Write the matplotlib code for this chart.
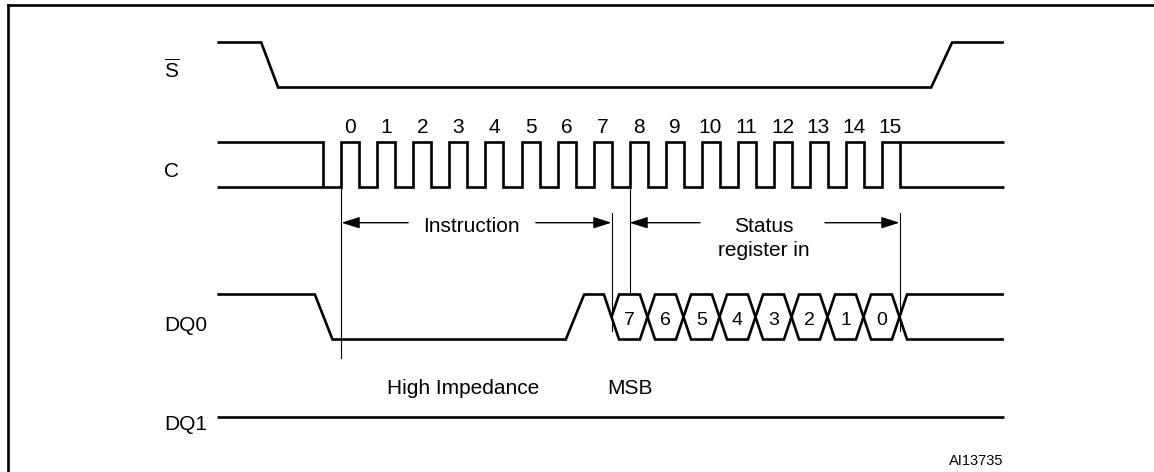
import matplotlib.pyplot as plt
from matplotlib.lines import Line2D

plt.rcParams['font.family'] = ['Liberation Sans', 'DejaVu Sans']
plt.rcParams['mathtext.fontset'] = 'custom'
plt.rcParams['mathtext.rm'] = 'Liberation Sans'

# timing in clock cycles, t = 0 at the first rising edge of C
signal_start, signal_end = -3.45, 18.4
s_fall = (-2.23, -1.76)
s_rise = (16.38, 16.96)
clock_labels = ['0', '1', '2', '3', '4', '5', '6', '7',
                '8', '9', '10', '11', '12', '13', '14', '15']
clock_rise = [0, 1, 2, 3, 4, 5, 6, 7, 8, 9, 10, 11, 12, 13, 14, 15]
clock_idle_end = -0.5
clock_idle_start = 15.5
dq0_fall = (-0.74, -0.25)
dq0_rise = (6.23, 6.74)
status_bits = ['7', '6', '5', '4', '3', '2', '1', '0']
bit_edges = [7.5, 8.5, 9.5, 10.5, 11.5, 12.5, 13.5, 14.5, 15.5]
instr_span = (0, 7.5)
status_span = (8, 15.5)

# layout (pixels, y down)
W, H = 1154, 472
x0_px, period_px = 341.5, 36.0
rows = {'S': 65, 'C': 164, 'DQ0': 317, 'DQ1': 417}
half = 22.5
xw = 0.21  # half-width of a data crossing, in cycles
fs = 15

fig = plt.figure(figsize=(W / 100, H / 100), dpi=100)
ax = fig.add_axes([0, 0, 1, 1])
ax.set_xlim(-x0_px / period_px, (W - x0_px) / period_px)
ax.set_ylim(H, 0)
ax.axis('off')

sig = dict(color='black', lw=1.9, solid_capstyle='butt', solid_joinstyle='miter')
thin = dict(color='black', lw=0.8)


def hi(r):
    return rows[r] - half


def lo(r):
    return rows[r] + half


# S bar
ax.plot([signal_start, s_fall[0], s_fall[1], s_rise[0], s_rise[1], signal_end],
        [hi('S'), hi('S'), lo('S'), lo('S'), hi('S'), hi('S')], **sig)

# C
xs, ys = [signal_start], [lo('C')]
for r in clock_rise:
    xs += [r, r, r + 0.5, r + 0.5]
    ys += [lo('C'), hi('C'), hi('C'), lo('C')]
xs.append(signal_end)
ys.append(lo('C'))
ax.plot(xs, ys, **sig)
ax.plot([signal_start, clock_idle_end, clock_idle_end], [hi('C'), hi('C'), lo('C')], **sig)
ax.plot([clock_idle_start, signal_end], [hi('C'), hi('C')], **sig)
for r, lab in zip(clock_rise, clock_labels):
    ax.text(r + 0.25, 133, lab, ha='center', va='baseline', fontsize=fs)

# DQ0: line A comes from the high-impedance waveform, line B starts at the first crossing
e0 = bit_edges[0]
xa = [signal_start, dq0_fall[0], dq0_fall[1], dq0_rise[0], dq0_rise[1], e0 - xw]
ya = [hi('DQ0'), hi('DQ0'), lo('DQ0'), lo('DQ0'), hi('DQ0'), hi('DQ0')]
xb, yb = [e0], [rows['DQ0']]
for k, e in enumerate(bit_edges):
    a_before = lo('DQ0') if k % 2 == 1 else hi('DQ0')
    b_before = hi('DQ0') if k % 2 == 1 else lo('DQ0')
    if k > 0:
        xa.append(e - xw)
        ya.append(a_before)
        xb.append(e - xw)
        yb.append(b_before)
    xa.append(e + xw)
    ya.append(b_before)
    xb.append(e + xw)
    yb.append(a_before)
xa.append(signal_end)
ya.append(ya[-1])
xb.append(signal_end)
yb.append(yb[-1])
ax.plot(xa, ya, **sig)
ax.plot(xb, yb, **sig)
for e, b in zip(bit_edges[:-1], status_bits):
    ax.text(e + 0.5, 325, b, ha='center', va='baseline', fontsize=14)

# DQ1
ax.plot([signal_start, signal_end], [rows['DQ1'], rows['DQ1']], **sig)

# marker lines
ax.plot([instr_span[0]] * 2, [lo('C'), 358], **thin)
ax.plot([instr_span[1]] * 2, [213, 331], **thin)
ax.plot([status_span[0]] * 2, [lo('C'), hi('DQ0')], **thin)
ax.plot([status_span[1]] * 2, [213, 331], **thin)

# dimension arrows
arr_y = 222.7
ap = dict(arrowstyle='-|>,head_length=1.1,head_width=0.35', color='black',
          lw=1.0, shrinkA=0, shrinkB=0)
ax.annotate('', xy=(instr_span[0], arr_y), xytext=(1.85, arr_y), arrowprops=ap)
ax.annotate('', xy=(instr_span[1], arr_y), xytext=(5.4, arr_y), arrowprops=ap)
ax.annotate('', xy=(status_span[0], arr_y), xytext=(9.96, arr_y), arrowprops=ap)
ax.annotate('', xy=(status_span[1], arr_y), xytext=(13.43, arr_y), arrowprops=ap)
ax.text(3.62, 231.7, 'Instruction', ha='center', va='baseline', fontsize=fs)
ax.text(11.73, 231.7, 'Status', ha='center', va='baseline', fontsize=fs)
ax.text(11.73, 256, 'register in', ha='center', va='baseline', fontsize=fs)

# row labels and notes
ax.text(-4.72, 78.3, r'$\overline{\mathrm{S}}$', ha='center', va='baseline', fontsize=fs)
ax.text(-4.72, 176.7, 'C', ha='center', va='baseline', fontsize=fs)
ax.text(-4.92, 331, 'DQ0', ha='left', va='baseline', fontsize=fs)
ax.text(-4.92, 430, 'DQ1', ha='left', va='baseline', fontsize=fs)
ax.text(3.38, 394, 'High Impedance', ha='center', va='baseline', fontsize=fs)
ax.text(7.37, 394, 'MSB', ha='left', va='baseline', fontsize=fs)
ax.text(signal_end, 465, 'AI13735', ha='right', va='baseline', fontsize=10.5)

# partial frame
fig.add_artist(Line2D([8 / W, 1], [1 - 4.5 / H] * 2, transform=fig.transFigure,
                      color='black', lw=1.9, solid_capstyle='projecting'))
fig.add_artist(Line2D([8 / W] * 2, [0, 1 - 4.5 / H], transform=fig.transFigure,
                      color='black', lw=1.9, solid_capstyle='projecting'))

fig.savefig('out.png', dpi=100)
